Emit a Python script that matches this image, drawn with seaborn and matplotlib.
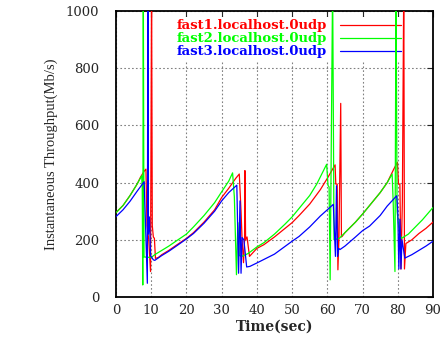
import pandas as pd
import matplotlib
matplotlib.use('Agg')
import matplotlib.pyplot as plt
import seaborn as sns

# valores (tiempo en s, throughput en Mb/s)
x_fast1 = [0, 2, 4, 6, 7, 8, 8.5, 8.8, 9.3, 9.8, 10.1, 10.3, 10.6, 10.9, 11.2, 12, 13, 15, 17, 20, 22, 25, 28, 30, 32, 34, 35,
           35.5, 35.8, 36.2, 36.5, 36.6, 36.8, 37.2, 37.9, 40, 42, 45, 48, 50, 52, 55, 58, 60, 62.2,
           62.4, 62.8, 63.0, 63.3, 63.8, 64.0, 64.2, 65, 68, 70, 72, 75, 77, 78.9, 79.9,
           80.2, 80.6, 80.9, 81.3, 81.7, 81.9, 82.3, 84, 86, 88, 90]
y_fast1 = [295, 320, 355, 395, 420, 440, 447, 250, 200, 89, 1100, 250, 210, 205, 135, 138, 148, 163, 180, 205, 225, 262, 305, 348, 380, 415, 430,
           300, 200, 120, 200, 442, 200, 210, 142, 170, 183, 210, 240, 260, 285, 325, 375, 415, 462,
           395, 395, 95, 210, 677, 210, 212, 225, 262, 290, 320, 365, 400, 448, 471,
           395, 395, 98, 330, 1100, 98, 187, 200, 222, 240, 262]

x_fast2 = [0, 2, 4, 6, 7.3, 7.45, 7.6, 7.75, 7.95, 10, 11, 13, 15, 17, 20, 22, 25, 28, 30, 32, 33.1,
           33.6, 34.2, 34.6, 35.0, 35.7, 37.5, 40, 42, 45, 48, 50, 52, 55, 57, 59.8,
           60.2, 60.5, 60.8, 61.5, 61.9, 63.4, 65, 68, 70, 72, 75, 77, 78.4,
           78.7, 79.2, 79.5, 79.8, 80.5, 81.1, 83, 85, 87, 90]
y_fast2 = [295, 320, 355, 395, 424, 380, 42, 1100, 140, 138, 148, 163, 178, 195, 220, 245, 285, 330, 368, 405, 434,
           350, 78, 260, 145, 142, 152, 175, 190, 220, 255, 280, 310, 355, 395, 464,
           390, 385, 60, 1100, 200, 205, 225, 262, 290, 320, 365, 400, 430,
           330, 89, 1100, 300, 220, 205, 220, 245, 270, 313]

x_fast3 = [0, 2, 4, 6, 8.0, 8.9, 9.05, 9.2, 9.5, 9.8, 10.6, 11, 13, 15, 17, 20, 22, 25, 28, 30, 32, 34.3,
           34.8, 35.2, 35.5, 35.8, 36.3, 37.1, 38, 40, 45, 50, 52, 55, 58, 60, 61.7,
           62.3, 62.6, 62.9, 63.2, 63.6, 65, 68, 70, 72, 75, 77, 79.7,
           80.0, 80.3, 80.6, 80.9, 81.2, 82, 84, 86, 88, 90]
y_fast3 = [281, 305, 335, 370, 403, 48, 1100, 220, 280, 145, 130, 128, 145, 160, 177, 203, 222, 258, 300, 336, 365, 391,
           83, 336, 83, 208, 200, 105, 107, 119, 150, 195, 212, 245, 283, 305, 324,
           142, 389, 142, 170, 166, 178, 210, 232, 248, 285, 318, 354,
           300, 98, 272, 98, 200, 136, 148, 163, 178, 195]

series = ['fast1.localhost.0udp', 'fast2.localhost.0udp', 'fast3.localhost.0udp']
colores = ['#ff0000', '#00ff00', '#0000ff']

datos = pd.concat([
    pd.DataFrame({'t': x_fast1, 'thr': y_fast1, 'serie': series[0]}),
    pd.DataFrame({'t': x_fast2, 'thr': y_fast2, 'serie': series[1]}),
    pd.DataFrame({'t': x_fast3, 'thr': y_fast3, 'serie': series[2]}),
], ignore_index=True)

sns.set_style('white')
plt.rcParams['font.family'] = ['DejaVu Serif']

fig = plt.figure(figsize=(4.45, 3.39), dpi=100)
ax = fig.add_axes([116/445, 1 - 297/339, 317/445, 286/339])

sns.lineplot(data=datos, x='t', y='thr', hue='serie', palette=colores, sort=False,
             estimator=None, linewidth=0.9, legend=False, ax=ax, zorder=3)

ax.set_xlim(0, 90)
ax.set_ylim(0, 1000)
ax.set_xticks(range(0, 91, 10))
ax.set_yticks(range(0, 1001, 200))
ax.set_axisbelow(True)
ax.grid(True, color='#808080', linestyle=(0, (1.5, 2)), linewidth=0.8)
ax.tick_params(direction='in', top=True, right=True, length=4, width=0.8, labelsize=9.5)
ax.tick_params(axis='y', pad=12)
ax.tick_params(axis='x', pad=5)
for s in ax.spines.values():
    s.set_linewidth(1.3)
    s.set_color('black')

ax.set_xlabel('Time(sec)', fontsize=10, fontweight='bold', labelpad=2)
ax.set_ylabel('Instantaneous Throughput(Mb/s)', fontsize=10.5, family='Liberation Serif', labelpad=6)

# leyenda estilo gnuplot: texto a la izquierda, linea a la derecha
handles = [plt.Line2D([], [], color=c, linewidth=0.9) for c in colores]
leg = ax.legend(handles, series, loc='upper right', bbox_to_anchor=(410/445, 1 - 10/339),
                bbox_transform=fig.transFigure, markerfirst=False, frameon=True,
                facecolor='white', edgecolor='none', framealpha=1.0, fancybox=False,
                handlelength=4.6, handletextpad=1.0, labelspacing=0.0, borderpad=0.2,
                prop={'family': 'DejaVu Serif', 'weight': 'bold', 'size': 9.5},
                labelcolor='linecolor')
leg.set_zorder(2)

plt.savefig('out.png', dpi=100)
